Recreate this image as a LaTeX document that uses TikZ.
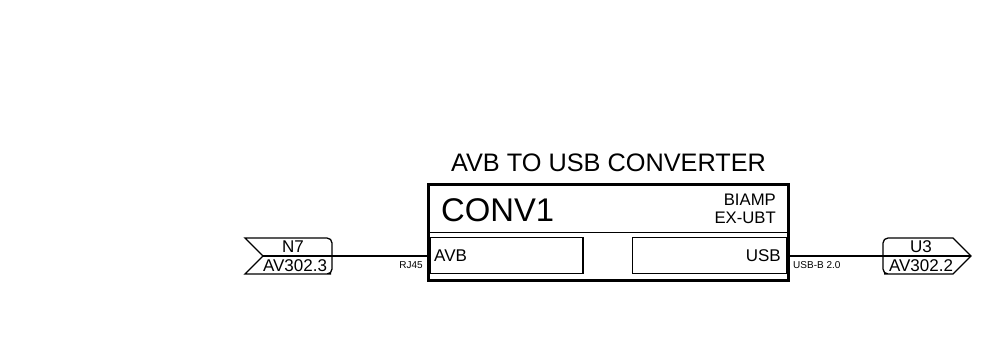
\documentclass[tikz,border=0pt]{standalone}
\usepackage{fontspec}
\setmainfont{Liberation Sans}
\tikzset{
  x=1pt,y=-1pt,
  outerbox/.style={draw=black,line width=3.4pt,line join=miter,inner sep=0pt,outer sep=0pt,anchor=north west,minimum width=360pt,minimum height=96pt},
  portbox/.style={draw=black,line width=1.6pt,inner sep=0pt,outer sep=0pt,anchor=north west,minimum width=153pt,minimum height=36pt},
  tagline/.style={draw=black,line width=1.3pt,rounded corners=0pt,line join=miter},
  wire/.style={draw=black,line width=1.5pt},
  rule/.style={draw=black,line width=1.6pt},
  lab/.style={inner sep=0pt,text=black,font=\fontsize{#1}{#1}\selectfont},
}
\begin{document}
\begin{tikzpicture}
\useasboundingbox (0,0) rectangle (1001,347);
% main box
\node[outerbox] (conv) at (428.5,184.5) {};
\node[portbox] (avbport) at (430,237.5) {};
\node[portbox,minimum width=154pt] (usbport) at (632.5,237.5) {};
\coordinate (divL) at (430,232.5);
\coordinate (divR) at (787,232.5);
\draw[rule] (divL) -- (divR);
% tags
\coordinate (n7tip) at (263,256);
\coordinate (u3tip) at (971,256);
\draw[tagline] (n7tip) -- (245,238) -- (326,238) [rounded corners=5pt] -- (332,238) -- (332,274) -- (326,274) [rounded corners=0pt] -- (245,274) -- cycle;
\draw[tagline] (u3tip) -- (953,238) -- (889,238) [rounded corners=5pt] -- (883,238) -- (883,274) -- (889,274) [rounded corners=0pt] -- (953,274) -- cycle;
% connectors
\draw[wire] (n7tip) -- (conv.west |- n7tip);
\draw[wire] (conv.east |- u3tip) -- (u3tip);
% text
\node[lab=25.3] (title) at (608.5,162.5) {AVB TO USB CONVERTER};
\node[lab=32.8,anchor=west] (cname) at (441,210.5) {CONV1};
\node[lab=16.7,anchor=east] (brand) at (776,199.5) {BIAMP};
\node[lab=16.7,anchor=east] (model) at (776,218) {EX-UBT};
\node[lab=17,anchor=west] (avbl) at (434,255.5) {AVB};
\node[lab=17,anchor=east] (usbl) at (781,255.5) {USB};
\node[lab=10,anchor=east] (rj) at (423,265) {RJ45};
\node[lab=10,anchor=west] (usbb) at (793,265) {USB-B 2.0};
\node[lab=17] (n7a) at (293,247) {N7};
\node[lab=17] (n7b) at (295,265.5) {AV302.3};
\node[lab=17] (u3a) at (921,247) {U3};
\node[lab=17] (u3b) at (921,265.5) {AV302.2};
\end{tikzpicture}
\end{document}
